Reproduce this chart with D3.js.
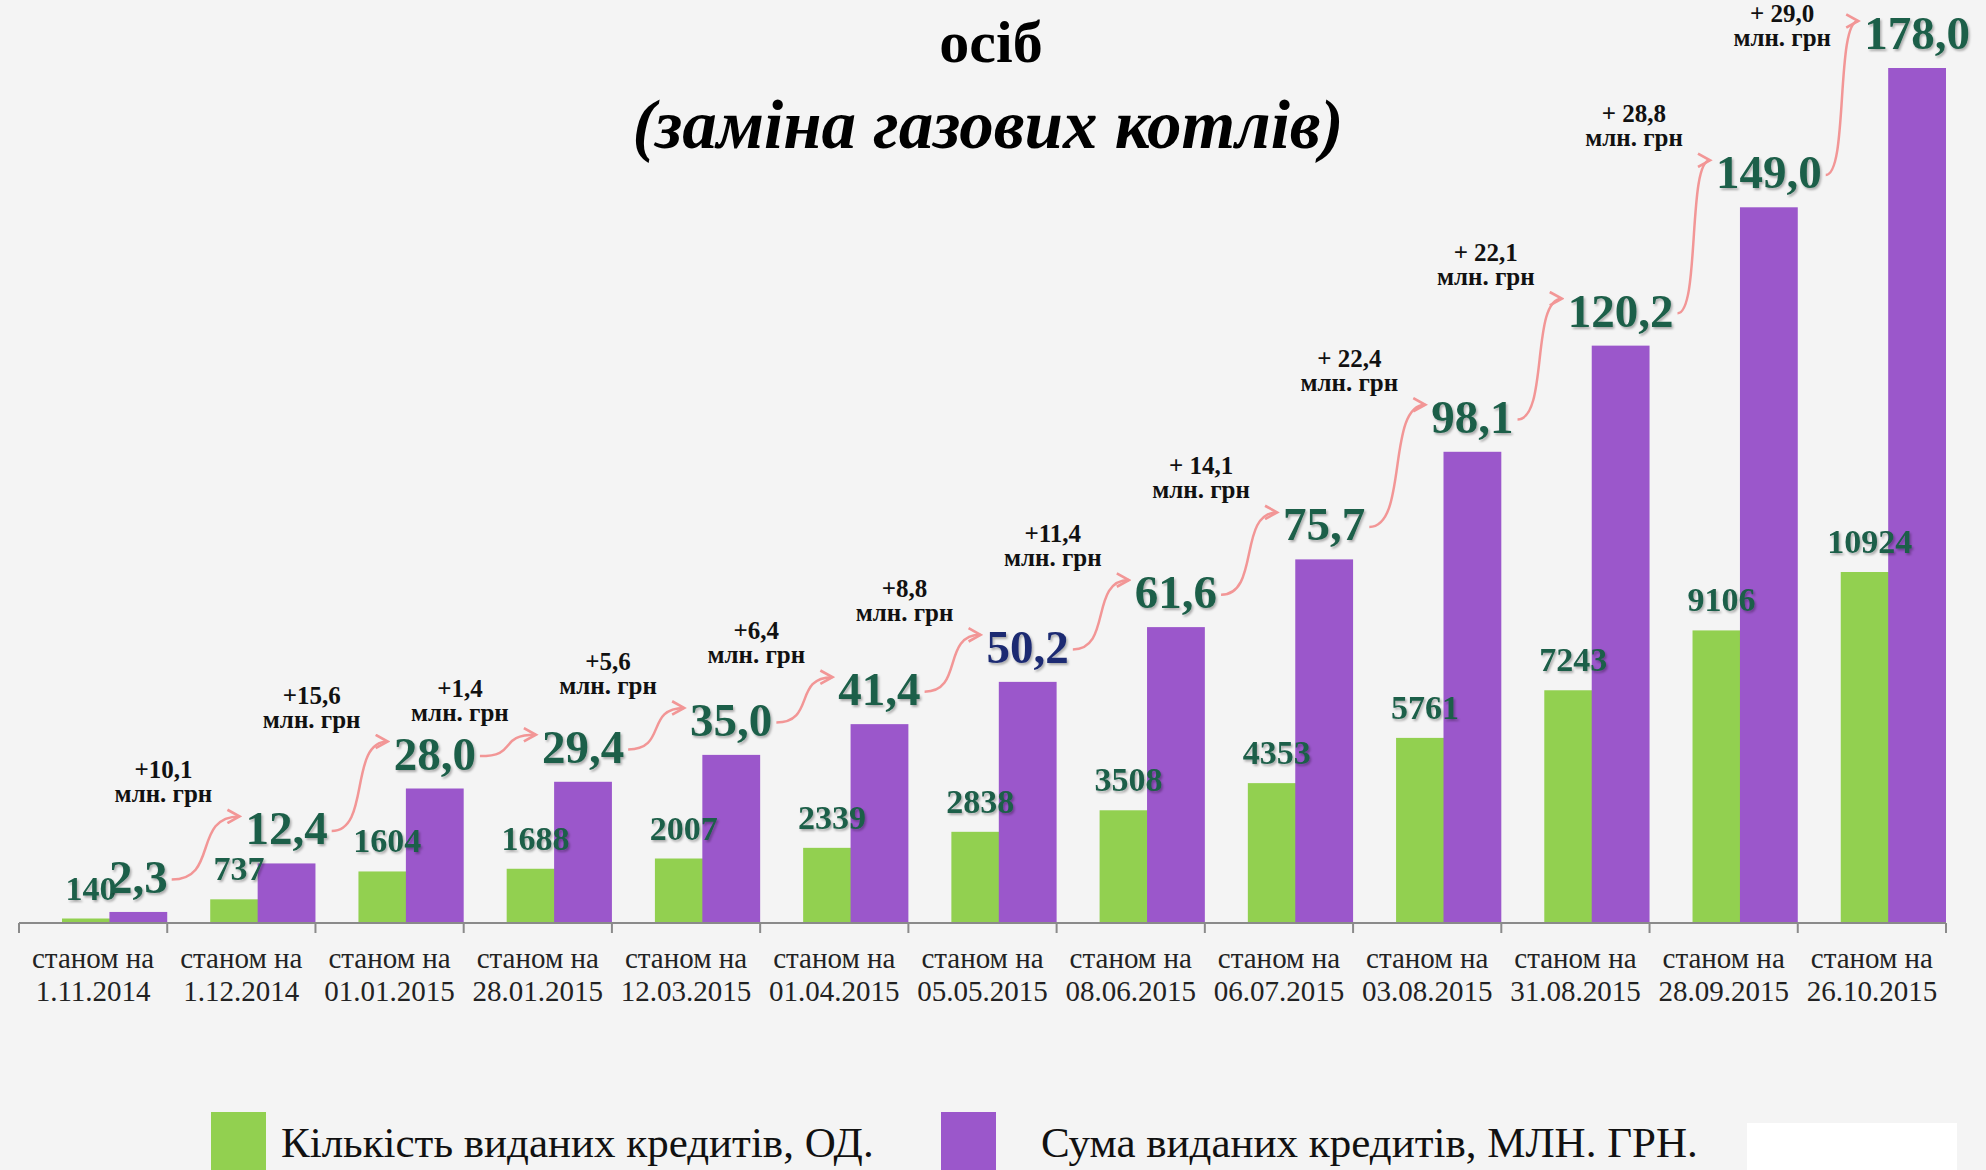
<!DOCTYPE html>
<html>
<head>
<meta charset="utf-8">
<script src="https://cdn.jsdelivr.net/npm/d3@7"></script>
<style>
  html, body { margin: 0; padding: 0; background: #f4f4f4; }
  #chart { width: 1986px; height: 1170px; overflow: hidden; }
</style>
</head>
<body>
<div id="chart"></div>
<script>
// Credits for households (gas boiler replacement)

const dates = ['1.11.2014', '1.12.2014', '01.01.2015', '28.01.2015', '12.03.2015', '01.04.2015',
    '05.05.2015', '08.06.2015', '06.07.2015', '03.08.2015', '31.08.2015', '28.09.2015', '26.10.2015'];
const counts = [140, 737, 1604, 1688, 2007, 2339, 2838, 3508, 4353, 5761, 7243, 9106, 10924];
const sums = [2.3, 12.4, 28.0, 29.4, 35.0, 41.4, 50.2, 61.6, 75.7, 98.1, 120.2, 149.0, 178.0];
const deltas = ['+10,1', '+15,6', '+1,4', '+5,6', '+6,4', '+8,8', '+11,4',
    '+ 14,1', '+ 22,4', '+ 22,1', '+ 28,8', '+ 29,0'];
const seriesNames = ['Кількість виданих кредитів, ОД.', 'Сума виданих кредитів, МЛН. ГРН.'];

const W = 1986, H = 1170;
const GREEN = '#92d050', PURPLE = '#9b57cb', LABEL = '#1c5e48', ARROW = '#f29696';
const serif = '"Liberation Serif", "Times New Roman", serif';

const svg = d3.select('#chart').append('svg')
    .attr('width', W)
    .attr('height', H);

svg.append('rect').attr('width', W).attr('height', H).attr('fill', '#f4f4f4');
svg.append('rect').attr('x', 1747).attr('y', 1123).attr('width', 210).attr('height', 47).attr('fill', '#ffffff');

const defs = svg.append('defs');
defs.append('marker')
    .attr('id', 'chev')
    .attr('viewBox', '0 0 12 12')
    .attr('refX', 10).attr('refY', 6)
    .attr('markerWidth', 16).attr('markerHeight', 16)
    .attr('markerUnits', 'userSpaceOnUse')
    .attr('orient', 'auto')
    .append('path')
    .attr('d', 'M1,1 L10,6 L1,11')
    .attr('fill', 'none')
    .attr('stroke', ARROW)
    .attr('stroke-width', 2);

const shadow = defs.append('filter').attr('id', 'shade')
    .attr('x', '-10%').attr('y', '-10%').attr('width', '130%').attr('height', '140%');
shadow.append('feDropShadow')
    .attr('dx', 1.5).attr('dy', 2).attr('stdDeviation', 1.2)
    .attr('flood-color', '#000').attr('flood-opacity', 0.3);

// Title
svg.append('text')
    .attr('x', 991).attr('y', 62)
    .attr('text-anchor', 'middle')
    .style('font-family', serif).style('font-weight', 'bold').style('font-size', '60px')
    .text('осіб');
svg.append('text')
    .attr('x', 988).attr('y', 148)
    .attr('text-anchor', 'middle')
    .style('font-family', serif).style('font-weight', 'bold').style('font-style', 'italic')
    .style('font-size', '69px')
    .text('(заміна газових котлів)');

// Scales
const x = d3.scaleBand().domain(dates).range([19, 1946]);
const bw = x.bandwidth();
const ySum = d3.scaleLinear().domain([0, 178]).range([923, 68]);
const yCount = d3.scaleLinear().domain([0, 10924]).range([923, 572]);
const fmt = v => v.toFixed(1).replace('.', ',');

const greenX = d => x(d) + bw * 0.29;
const purpleX = d => x(d) + bw * 0.61;
const barW = bw * 0.39;

// Bars
svg.append('g').selectAll('rect')
    .data(dates)
    .join('rect')
    .attr('x', d => greenX(d))
    .attr('width', barW)
    .attr('y', (d, i) => yCount(counts[i]))
    .attr('height', (d, i) => yCount(0) - yCount(counts[i]))
    .attr('fill', GREEN);

svg.append('g').selectAll('rect')
    .data(dates)
    .join('rect')
    .attr('x', d => purpleX(d))
    .attr('width', barW)
    .attr('y', (d, i) => ySum(sums[i]))
    .attr('height', (d, i) => ySum(0) - ySum(sums[i]))
    .attr('fill', PURPLE);

// X axis: line plus ticks on band edges
const axisG = svg.append('g').attr('stroke', '#8a8a8a').attr('stroke-width', 2);
axisG.append('line')
    .attr('x1', x.range()[0]).attr('x2', x.range()[1])
    .attr('y1', 923).attr('y2', 923);
axisG.selectAll('.tick')
    .data(dates.map(d => x(d)).concat([x.range()[1]]))
    .join('line')
    .attr('x1', d => d).attr('x2', d => d)
    .attr('y1', 923).attr('y2', 933);

const catG = svg.append('g')
    .style('font-family', serif).style('font-size', '29px').attr('fill', '#222');
catG.selectAll('.l1')
    .data(dates)
    .join('text')
    .attr('x', d => x(d) + bw / 2).attr('y', 968)
    .attr('text-anchor', 'middle')
    .text('станом на');
catG.selectAll('.l2')
    .data(dates)
    .join('text')
    .attr('x', d => x(d) + bw / 2).attr('y', 1001)
    .attr('text-anchor', 'middle')
    .text(d => d);

// Count labels
svg.append('g').selectAll('text')
    .data(dates)
    .join('text')
    .attr('x', d => greenX(d) + barW / 2)
    .attr('y', (d, i) => yCount(counts[i]) - 19)
    .attr('text-anchor', 'middle')
    .attr('fill', LABEL)
    .attr('filter', 'url(#shade)')
    .style('font-family', serif).style('font-weight', 'bold').style('font-size', '34px')
    .text((d, i) => counts[i]);

// Sum labels
const sumText = svg.append('g').selectAll('text')
    .data(dates)
    .join('text')
    .attr('x', d => purpleX(d) + barW / 2)
    .attr('y', (d, i) => ySum(sums[i]) - 19)
    .attr('text-anchor', 'middle')
    .attr('fill', (d, i) => sums[i] === 50.2 ? '#1d2b72' : LABEL)
    .attr('filter', 'url(#shade)')
    .style('font-family', serif).style('font-weight', 'bold').style('font-size', '47px')
    .text((d, i) => fmt(sums[i]));

// Growth arrows and delta notes
const boxes = sumText.nodes().map(n => n.getBBox());
const arrowG = svg.append('g');
const noteG = svg.append('g')
    .style('font-family', serif).style('font-weight', 'bold').style('font-size', '25px')
    .attr('fill', '#111').attr('text-anchor', 'middle');

deltas.forEach((t, k) => {
    const a = boxes[k], b = boxes[k + 1];
    const sx = a.x + a.width + 4, sy = a.y + a.height * 0.55;
    const ex = b.x - 6, ey = b.y + b.height * 0.5 - 12;
    const dx = ex - sx;
    arrowG.append('path')
        .attr('d', `M${sx},${sy} C${sx + dx * 0.7},${sy} ${ex - dx * 0.7},${ey} ${ex},${ey}`)
        .attr('fill', 'none')
        .attr('stroke', ARROW)
        .attr('stroke-width', 2.5)
        .attr('marker-end', 'url(#chev)');

    const ny = Math.max(22, ey - 38);
    const nx = ex - 76;
    noteG.append('text').attr('x', nx).attr('y', ny).text(t);
    noteG.append('text').attr('x', nx).attr('y', ny + 24).text('млн. грн');
});

// Legend
const legend = svg.append('g');
[GREEN, PURPLE].forEach((c, i) => {
    const lx = i === 0 ? 211 : 941;
    legend.append('rect').attr('x', lx).attr('y', 1112).attr('width', 55).attr('height', 58).attr('fill', c);
    legend.append('text')
        .attr('x', lx + (i === 0 ? 70 : 100)).attr('y', 1157)
        .style('font-family', serif).style('font-size', '43px').attr('fill', '#111')
        .text(seriesNames[i]);
});
</script>
</body>
</html>
